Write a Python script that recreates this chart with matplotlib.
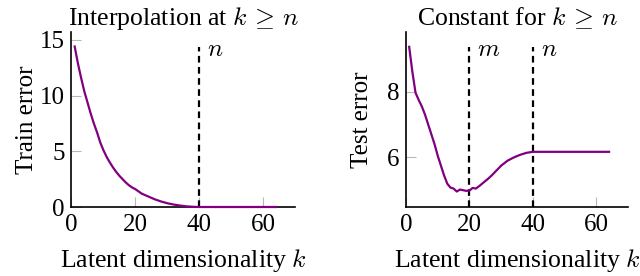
import matplotlib
matplotlib.use("Agg")
import matplotlib.pyplot as plt

plt.rcParams['font.family'] = 'Liberation Serif'
plt.rcParams['mathtext.fontset'] = 'cm'
plt.rcParams['font.size'] = 18

# train error (left)
k_train = [1, 2, 3, 4, 5, 6, 7, 8, 9, 10, 11, 12, 13, 14, 15, 16, 17, 18, 19, 20,
           22, 24, 26, 28, 30, 32, 34, 36, 38, 40, 64]
train_err = [14.4, 12.9, 11.6, 10.4, 9.4, 8.4, 7.5, 6.7, 5.8, 5.1, 4.5, 4.0, 3.55,
             3.15, 2.8, 2.5, 2.2, 1.95, 1.75, 1.6, 1.2, 0.95, 0.7, 0.5, 0.34, 0.22,
             0.13, 0.06, 0.02, 0.0, 0.0]

# test error (right)
k_test = [1, 2, 3, 4, 5, 6, 7, 8, 9, 10, 11, 12, 13, 14, 15, 16, 17, 18, 19, 20,
          21, 22, 23, 24, 25, 26, 27, 28, 29, 30, 32, 34, 36, 38, 40, 64]
test_err = [9.37, 8.61, 7.97, 7.75, 7.55, 7.3, 7.0, 6.7, 6.4, 6.05, 5.75, 5.45, 5.2,
            5.08, 5.05, 4.96, 5.02, 5.0, 4.98, 4.99, 5.07, 5.05, 5.12, 5.2, 5.28,
            5.36, 5.45, 5.55, 5.65, 5.75, 5.9, 6.0, 6.08, 6.14, 6.17, 6.17]

n_val = 40
m_val = 20
purple = '#800080'

fig = plt.figure(figsize=(6.4, 2.76), dpi=100)
ax1 = fig.add_axes([0.1117, 0.25, 0.3492, 0.634])
ax2 = fig.add_axes([0.6344, 0.249, 0.347, 0.636])


def style(ax):
    for s in ['top', 'right']:
        ax.spines[s].set_visible(False)
    for s in ['left', 'bottom']:
        ax.spines[s].set_linewidth(1.2)
    ax.tick_params(direction='in', length=7, width=0.8, color='#b8b8b8', pad=5)
    ax.set_xlim(0, 70)
    ax.set_xticks([0, 20, 40, 60])
    ax.set_xlabel(r'Latent dimensionality $k$', labelpad=8, fontsize=18.5)


style(ax1)
ax1.plot(k_train, train_err, color=purple, lw=1.6, clip_on=False, zorder=5)
top1 = max(train_err)
ax1.plot([n_val, n_val], [0, top1], color='black', lw=1.6, ls=(0, (3, 2)))
ax1.text(n_val + 2.5, top1 - 0.3, r'$n$', ha='left', va='center')
ax1.set_ylim(0, 15.7)
ax1.set_yticks([0, 5, 10, 15])
ax1.set_ylabel('Train error', labelpad=1)
ax1.set_title(r'Interpolation at $k \,\geq\, n$', pad=5, fontsize=18.5)

style(ax2)
ax2.plot(k_test, test_err, color=purple, lw=1.6, zorder=5)
top2 = max(test_err)
for xv, lab in [(m_val, r'$m$'), (n_val, r'$n$')]:
    ax2.plot([xv, xv], [4.48, top2], color='black', lw=1.6, ls=(0, (3, 2)))
    ax2.text(xv + 2.5, top2 - 0.1, lab, ha='left', va='center')
ax2.set_ylim(4.48, 9.83)
ax2.set_yticks([6, 8])
ax2.set_ylabel('Test error', labelpad=10)
ax2.set_title(r'Constant for $k \,\geq\, n$', pad=5, fontsize=18.5)

fig.savefig('out.png', dpi=100)
